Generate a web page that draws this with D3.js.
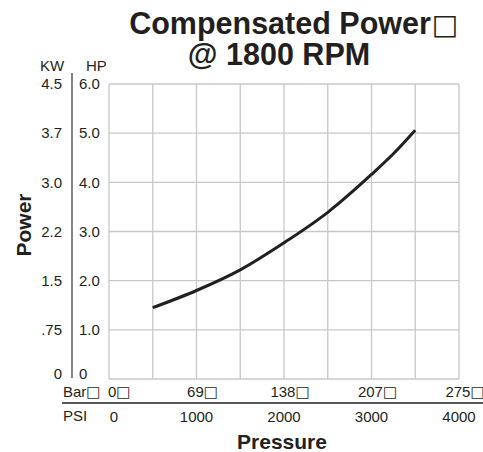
<!DOCTYPE html>
<head>
<meta charset="utf-8">
<script src="https://d3js.org/d3.v7.min.js"></script>
<style>
body {
  margin: 0;
  background: #fff;
  font-family: "Liberation Sans", Arial, Helvetica, sans-serif;
  color: #231f20;
}
.grid line {
  stroke: #c8c8c8;
  stroke-width: 1.3;
}
.tick-label {
  font-size: 15px;
  fill: #231f20;
}
.box {
  font-family: "DejaVu Sans", sans-serif;
  font-weight: normal;
}
</style>
</head>
<body>
<div id="chart"></div>
<script>

// --- Data ---
let psi = [500, 1000, 1500, 2000, 2500, 3000, 3250, 3500];
let hp = [1.45, 1.80, 2.22, 2.77, 3.39, 4.16, 4.58, 5.06];

let hpTicks = [0, 1, 2, 3, 4, 5, 6];
let hpLabels = ["0", "1.0", "2.0", "3.0", "4.0", "5.0", "6.0"];
let kwLabels = ["0", ".75", "1.5", "2.2", "3.0", "3.7", "4.5"];

let psiGrid = [0, 500, 1000, 1500, 2000, 2500, 3000, 3500, 4000];
let psiTicks = [0, 1000, 2000, 3000, 4000];
let barLabels = ["0", "69", "138", "207", "275"];

let width = 483, height = 452;

let svg = d3.select("#chart").append("svg")
    .attr("width", width)
    .attr("height", height);

let x = d3.scaleLinear().domain([0, 4000]).range([109, 459]);
let y = d3.scaleLinear().domain([0, 6]).range([379, 84]);

let ink = "#231f20";
let box = "\u25A1";

// Title
let t1 = svg.append("text")
    .attr("x", 280)
    .attr("y", 34)
    .attr("text-anchor", "middle")
    .attr("font-size", 30.5)
    .attr("font-weight", "bold")
    .attr("fill", ink)
    .text("Compensated Power");
let t1w = t1.node().getComputedTextLength();
svg.append("text")
    .attr("class", "box")
    .attr("x", 280 + t1w / 2 + 1)
    .attr("y", 34)
    .attr("font-size", 28)
    .attr("fill", ink)
    .text(box);

svg.append("text")
    .attr("x", 279)
    .attr("y", 65)
    .attr("text-anchor", "middle")
    .attr("font-size", 30.5)
    .attr("font-weight", "bold")
    .attr("fill", ink)
    .text("@ 1800 RPM");

// Grid
let grid = svg.append("g").attr("class", "grid");

grid.selectAll("line.v")
    .data(psiGrid)
  .enter().append("line")
    .attr("class", "v")
    .attr("x1", x).attr("x2", x)
    .attr("y1", y(6)).attr("y2", y(0));

grid.selectAll("line.h")
    .data(hpTicks)
  .enter().append("line")
    .attr("class", "h")
    .attr("x1", x(0)).attr("x2", x(4000))
    .attr("y1", y).attr("y2", y);

// Y axis: dual KW / HP scale
svg.append("line")
    .attr("x1", 72).attr("x2", 72)
    .attr("y1", 73).attr("y2", y(0) - 1)
    .attr("stroke", "#444")
    .attr("stroke-width", 1.3);

svg.append("text")
    .attr("class", "tick-label")
    .attr("x", 40).attr("y", 71)
    .text("KW");
svg.append("text")
    .attr("class", "tick-label")
    .attr("x", 86).attr("y", 71)
    .text("HP");

function labelY(d) { return d === 0 ? y(d) - 5 : y(d); }

svg.selectAll("text.kw")
    .data(hpTicks)
  .enter().append("text")
    .attr("class", "tick-label kw")
    .attr("x", 62)
    .attr("y", labelY)
    .attr("dy", "0.35em")
    .attr("text-anchor", "end")
    .text(function(d, i) { return kwLabels[i]; });

svg.selectAll("text.hp")
    .data(hpTicks)
  .enter().append("text")
    .attr("class", "tick-label hp")
    .attr("x", 79)
    .attr("y", labelY)
    .attr("dy", "0.35em")
    .text(function(d, i) { return hpLabels[i]; });

svg.append("text")
    .attr("transform", "translate(31,225) rotate(-90)")
    .attr("text-anchor", "middle")
    .attr("font-size", 21)
    .attr("font-weight", "bold")
    .attr("fill", ink)
    .text("Power");

// X axis: dual Bar / PSI scale
let barHead = svg.append("text")
    .attr("class", "tick-label")
    .attr("x", 63).attr("y", 397)
    .text("Bar");
barHead.append("tspan").attr("class", "box").attr("font-size", 15).text(box);

let barText = svg.selectAll("text.bar")
    .data(psiTicks)
  .enter().append("text")
    .attr("class", "tick-label bar")
    .attr("x", function(d) { return d === 0 ? x(d) - 1 : x(d) + 6; })
    .attr("y", 397)
    .attr("text-anchor", function(d) { return d === 0 ? "start" : "middle"; })
    .text(function(d, i) { return barLabels[i]; });
barText.append("tspan").attr("class", "box").attr("font-size", 15).text(box);

svg.append("line")
    .attr("x1", 62).attr("x2", width)
    .attr("y1", 403).attr("y2", 403)
    .attr("stroke", ink)
    .attr("stroke-width", 1.3);

svg.append("text")
    .attr("class", "tick-label")
    .attr("x", 63).attr("y", 421)
    .text("PSI");

svg.selectAll("text.psi")
    .data(psiTicks)
  .enter().append("text")
    .attr("class", "tick-label psi")
    .attr("x", function(d) { return d === 0 ? x(d) + 5 : x(d); })
    .attr("y", 422)
    .attr("text-anchor", "middle")
    .text(function(d) { return d; });

svg.append("text")
    .attr("x", 282)
    .attr("y", 449)
    .attr("text-anchor", "middle")
    .attr("font-size", 21)
    .attr("font-weight", "bold")
    .attr("fill", ink)
    .text("Pressure");

// Curve
let line = d3.line()
    .x(function(d) { return x(d[0]); })
    .y(function(d) { return y(d[1]); })
    .curve(d3.curveMonotoneX);

svg.append("path")
    .datum(psi.map(function(p, i) { return [p, hp[i]]; }))
    .attr("fill", "none")
    .attr("stroke", ink)
    .attr("stroke-width", 3)
    .attr("d", line);

</script>
</body>
